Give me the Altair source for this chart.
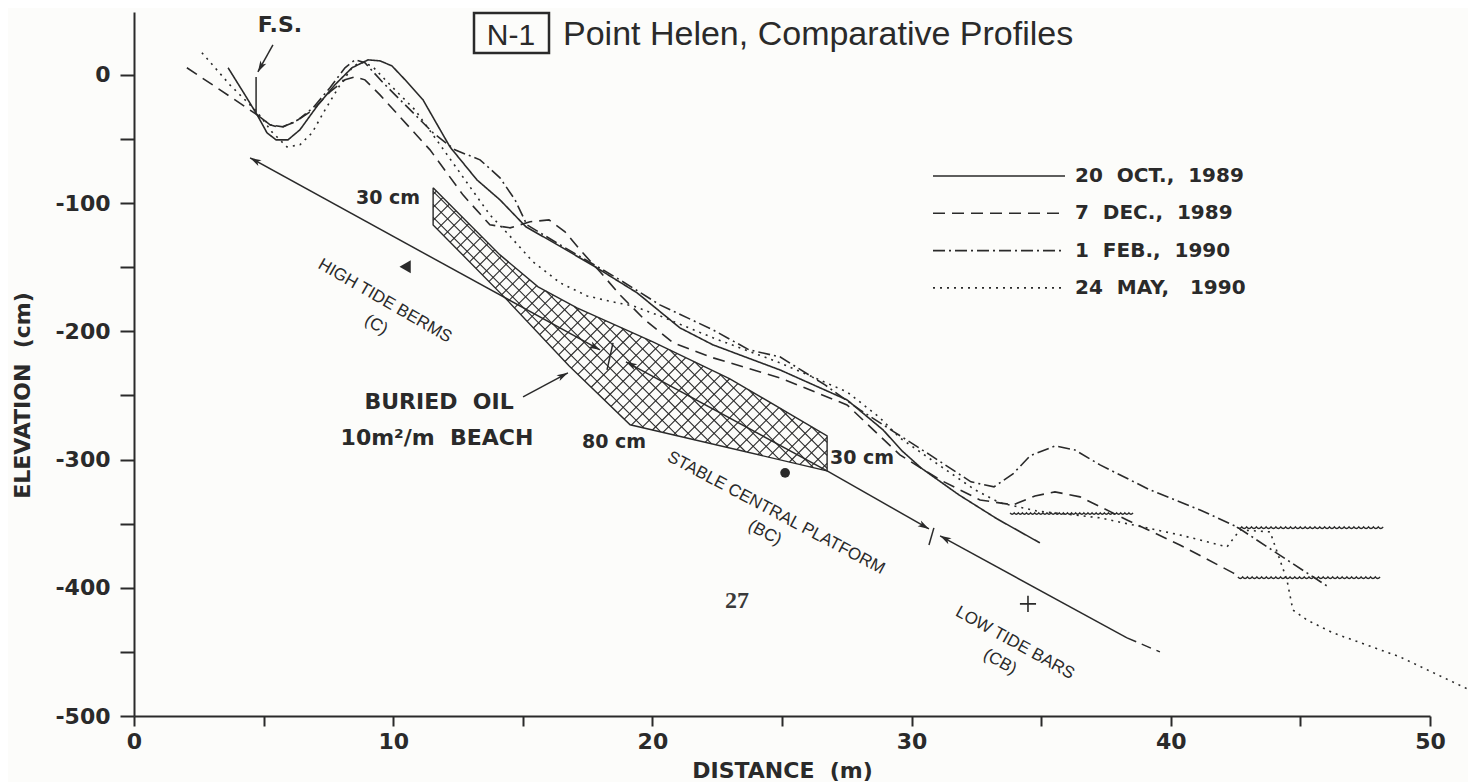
import math
import altair as alt
import pandas as pd

INK = "#2a2a2a"
BG = "#fcfcfa"
BOLD = "DejaVu Sans"
PLAIN = "Liberation Sans"
SP2 = "\u00a0\u00a0"  # wide gap that SVG does not collapse

# ---------------- profile series (distance m, elevation cm) ----------------
SERIES = ["20 OCT., 1989", "7 DEC., 1989", "1 FEB., 1990", "24 MAY, 1990"]
LEGEND_LABELS = ["20" + SP2 + "OCT.," + SP2 + "1989", "7" + SP2 + "DEC.," + SP2 + "1989",
                 "1" + SP2 + "FEB.," + SP2 + "1990", "24" + SP2 + "MAY," + SP2 + "\u00a01990"]

oct_dist = [3.63, 4.28, 4.75, 5.13, 5.48, 5.94, 6.40, 7.10, 7.75, 8.41, 9.03, 9.49, 9.95, 10.46,
            11.15, 12.19, 13.23, 14.12, 15.12, 16.47, 17.79, 19.41, 21.06, 22.34, 24.92, 27.51,
            28.90, 29.63, 30.36, 31.83, 33.30, 34.95]
oct_elev = [5.5, -15.6, -31.2, -45.2, -50.7, -50.7, -42.9, -23.4, -7.8, 5.5, 11.7, 10.9, 7.0, -3.9,
            -19.5, -56.2, -81.9, -97.5, -118.5, -134.1, -149.7, -170.0, -197.3, -210.6, -230.1, -253.5,
            -276.9, -293.2, -306.5, -327.6, -346.3, -365.0]

dec_dist = [2.04, 3.32, 4.75, 5.25, 5.63, 6.21, 6.91, 7.56, 8.14, 8.53, 8.91, 9.49, 10.26, 11.42,
            12.69, 13.73, 14.51, 15.28, 16.01, 16.63, 17.21, 17.98, 18.75, 19.71, 20.80, 22.34,
            24.92, 27.51, 29.55, 31.10, 32.64, 33.91, 34.76, 35.53, 36.50, 38.31, 40.35, 42.40, 42.67]
dec_elev = [5.5, -11.7, -31.2, -39.0, -41.3, -36.7, -27.3, -13.3, -3.9, -1.6, -3.9, -15.6, -32.8, -58.5,
            -93.6, -117.0, -119.3, -114.6, -113.1, -122.4, -136.5, -153.6, -171.6, -191.1, -209.0, -220.7,
            -236.3, -257.4, -296.4, -315.9, -331.5, -335.4, -328.4, -325.2, -329.1, -347.1, -366.6, -388.4, -391.5]

feb_dist = [4.75, 5.25, 5.75, 6.33, 6.91, 7.56, 8.14, 8.53, 8.91, 9.61, 10.46, 11.54, 12.38, 13.35,
            14.12, 14.70, 15.16, 16.44, 18.75, 20.29, 22.34, 23.73, 24.92, 26.66, 28.01, 29.32,
            30.71, 32.29, 33.18, 33.91, 34.57, 35.53, 36.30, 37.27, 39.20, 41.13, 42.55, 44.60, 46.14]
feb_elev = [-31.2, -39.0, -40.6, -35.1, -25.7, -10.1, 5.5, 11.7, 9.4, -6.2, -23.4, -45.2, -58.5, -66.3,
            -80.3, -97.5, -117.0, -132.6, -159.9, -179.4, -198.9, -214.5, -219.9, -241.8, -261.3, -278.4,
            -296.4, -317.4, -321.3, -311.2, -297.1, -289.4, -292.5, -304.2, -323.7, -339.3, -352.5, -379.8, -400.1]

may_dist = [2.62, 3.70, 4.75, 5.32, 5.90, 6.40, 6.87, 7.37, 7.95, 8.41, 8.72, 9.18, 9.88, 10.84,
            11.81, 12.77, 13.73, 14.39, 15.39, 16.44, 17.48, 18.48, 19.25, 20.29, 22.34, 24.92,
            27.51, 28.78, 29.55, 31.10, 32.45, 33.41, 34.80, 37.27, 40.35, 42.17, 42.67, 43.83,
            44.48, 44.71, 45.25, 46.26, 48.84, 51.77]
may_elev = [17.2, -7.8, -28.9, -44.5, -56.2, -54.6, -45.2, -27.3, -7.8, 5.5, 10.1, 7.0, -7.8, -27.3,
            -54.6, -81.9, -109.2, -123.2, -145.8, -162.2, -172.4, -177.1, -180.2, -188.0, -205.1, -224.6,
            -247.2, -267.5, -283.1, -304.9, -323.7, -333.8, -340.0, -345.5, -358.8, -368.1, -354.9, -356.4,
            -393.9, -417.3, -425.1, -435.2, -453.9, -482.0]

# ---------------- buried-oil zone outline ----------------
oil_dist = [11.54, 14.12, 15.59, 17.09, 20.02, 22.99, 26.74, 26.74, 19.14, 16.78, 14.39, 11.54]
oil_elev = [-88.1, -140.4, -165.3, -181.7, -208.2, -237.1, -281.5, -308.8, -272.9, -226.9, -175.5, -117.0]

# ---------------- zone lines / arrows (start, end, head, kind) ----------------
seg_d1 = [4.48, 18.98, 26.74, 31.10, 38.31, 18.48, 30.86, 4.71, 5.36, 15.01]
seg_e1 = [-64.7, -223.8, -308.8, -359.5, -439.1, -209.0, -353.3, -1.6, 23.4, -251.1]
seg_d2 = [17.98, 26.74, 30.67, 38.31, 39.58, 18.25, 30.67, 4.71, 4.78, 16.74]
seg_e2 = [-214.5, -308.8, -354.1, -439.1, -450.0, -230.1, -366.6, -29.6, 2.3, -232.4]
seg_head = ["both", "start", "end", "start", "none", "none", "none", "none", "end", "end"]
seg_kind = ["solid", "solid", "solid", "solid", "dash", "solid", "solid", "solid", "solid", "solid"]

# ---------------- rippled water-level lines (start, end, elevation) ----------------
wave_d1 = [42.55, 42.59, 33.80]
wave_d2 = [48.19, 48.07, 38.54]
wave_e = [-352.5, -391.5, -341.6]

# ---------------- point symbols ----------------
tri_dist, tri_elev = [10.46], [-149.7]
dot_dist, dot_elev = [25.12], [-310.4]
plus_dist, plus_elev = [34.49], [-412.6]

# ---------------- annotations ----------------
bold_small_text = ["30 cm", "80 cm", "30 cm"]
bold_small_dist = [9.80, 18.52, 28.09]
bold_small_elev = [-95.9, -286.2, -298.7]

bold_big_text = ["F.S.", "BURIED" + SP2 + "OIL", "10m²/m" + SP2 + "BEACH"]
bold_big_dist = [5.63, 11.77, 11.69]
bold_big_elev = [39.0, -255.0, -283.1]

zone_text = ["HIGH TIDE BERMS", "(C)", "STABLE CENTRAL PLATFORM", "(BC)", "LOW TIDE BARS", "(CB)"]
zone_dist = [9.68, 9.34, 24.77, 24.34, 33.99, 33.41]
zone_elev = [-176.3, -195.0, -341.6, -357.2, -443.0, -457.8]
zone_angle = [30, 30, 28, 28, 29, 29]

page_mark_text, page_mark_dist, page_mark_elev = ["27"], [23.26], [-410.2]

# ---------------- build tables ----------------
rows = []
for name, ds, es in zip(SERIES, [oct_dist, dec_dist, feb_dist, may_dist],
                        [oct_elev, dec_elev, feb_elev, may_elev]):
    for i, (d, e) in enumerate(zip(ds, es)):
        rows.append({"series": name, "dist": d, "elev": e, "ord": i})
profiles = pd.DataFrame(rows)

oil = pd.DataFrame({"dist": oil_dist + oil_dist[:1], "elev": oil_elev + oil_elev[:1],
                    "ord": list(range(len(oil_dist) + 1))})

W, H = 1296, 704
XDOM, YDOM = [0, 50], [-500, 49]
KX = W / (XDOM[1] - XDOM[0])
KY = H / (YDOM[1] - YDOM[0])

# cross-hatching clipped to the oil zone
px = [d * KX for d in oil_dist]
py = [-e * KY for e in oil_elev]
n = len(px)
hatch = []
step = 13.0
for sgn in (1.0, -1.0):
    cs = [py[i] - sgn * px[i] for i in range(n)]
    c = min(cs) + step / 2
    while c < max(cs):
        xs = []
        for i in range(n):
            j = (i + 1) % n
            f1 = py[i] - sgn * px[i] - c
            f2 = py[j] - sgn * px[j] - c
            if (f1 > 0) != (f2 > 0):
                t = f1 / (f1 - f2)
                xs.append(px[i] + t * (px[j] - px[i]))
        xs.sort()
        for a, b in zip(xs[0::2], xs[1::2]):
            hatch.append({"dist": a / KX, "elev": -(sgn * a + c) / KY,
                          "dist2": b / KX, "elev2": -(sgn * b + c) / KY})
        c += step
hatch = pd.DataFrame(hatch)

segs = pd.DataFrame({"dist": seg_d1, "elev": seg_e1, "dist2": seg_d2, "elev2": seg_e2,
                     "head": seg_head, "kind": seg_kind})

heads = []
for d1, e1, d2, e2, h in zip(seg_d1, seg_e1, seg_d2, seg_e2, seg_head):
    def add(tx, ty, fx, fy):
        ang = math.degrees(math.atan2(-(ty - fy) * KY, (tx - fx) * KX)) % 360
        heads.append({"dist": tx, "elev": ty, "angle": ang})
    if h in ("end", "both"):
        add(d2, e2, d1, e1)
    if h in ("start", "both"):
        add(d1, e1, d2, e2)
heads = pd.DataFrame(heads)

# ripple symbol: scalloped stroke spanning the unit box horizontally
NB = 30
wstep = 2.0 / NB
RIPPLE = "M -1 0 " + " ".join(f"q {wstep/2:.4f} 0.045 {wstep:.4f} 0" for _ in range(NB))
waves = pd.DataFrame({
    "dist": [(a + b) / 2 for a, b in zip(wave_d1, wave_d2)],
    "elev": wave_e,
    "sz": [((b - a) * KX) ** 2 for a, b in zip(wave_d1, wave_d2)],
})

# ---------------- encodings ----------------
XS = alt.Scale(domain=XDOM, nice=False, zero=False)
YS = alt.Scale(domain=YDOM, nice=False, zero=False)
XAX = alt.Axis(values=list(range(0, 51, 5)), labelExpr="datum.value % 10 === 0 ? toString(datum.value) : ''",
               title="DISTANCE" + SP2 + "(m)", grid=False, tickSize=10, tickWidth=2, tickColor=INK,
               domainColor=INK, domainWidth=2, labelFont=BOLD, labelFontWeight="bold", labelFontSize=22,
               labelColor=INK, labelPadding=5, labelFlush=False, labelOverlap=False,
               titleFont=BOLD, titleFontWeight="bold", titleFontSize=22, titleColor=INK, titlePadding=8)
YAX = alt.Axis(values=list(range(-500, 1, 50)), labelExpr="datum.value % 100 === 0 ? toString(datum.value) : ''",
               title="ELEVATION" + SP2 + "(cm)", grid=False, tickSize=14, tickWidth=2, tickColor=INK,
               domainColor=INK, domainWidth=2, labelFont=BOLD, labelFontWeight="bold", labelFontSize=22,
               labelColor=INK, labelPadding=10, labelFlush=False, labelOverlap=False,
               titleFont=BOLD, titleFontWeight="bold", titleFontSize=22, titleColor=INK,
               titleAngle=270, titleX=-112, titleY=383, titleAlign="center", titleBaseline="middle")


def X(f="dist"):
    return alt.X(f"{f}:Q", scale=XS, axis=XAX)


def Y(f="elev"):
    return alt.Y(f"{f}:Q", scale=YS, axis=YAX)


DASH = alt.Scale(domain=SERIES, range=[[1, 0], [12, 7], [12, 4, 2, 4], [2, 5]])

curves = alt.Chart(profiles).mark_line(color=INK, strokeWidth=1.6, clip=False).encode(
    x=X(), y=Y(), order="ord:Q", detail="series:N",
    strokeDash=alt.StrokeDash("series:N", scale=DASH, legend=None))

oil_outline = alt.Chart(oil).mark_line(color=INK, strokeWidth=1.4).encode(x=X(), y=Y(), order="ord:Q")
hatch_layer = alt.Chart(hatch).mark_rule(color=INK, strokeWidth=1.1).encode(
    x=X(), y=Y(), x2="dist2:Q", y2="elev2:Q")

solid_segs = alt.Chart(segs).transform_filter("datum.kind === 'solid'").mark_rule(
    color=INK, strokeWidth=1.5).encode(x=X(), y=Y(), x2="dist2:Q", y2="elev2:Q")
dash_segs = alt.Chart(segs).transform_filter("datum.kind === 'dash'").mark_rule(
    color=INK, strokeWidth=1.5, strokeDash=[10, 6]).encode(x=X(), y=Y(), x2="dist2:Q", y2="elev2:Q")
wave_layer = alt.Chart(waves).mark_point(
    shape=RIPPLE, filled=False, color=INK, strokeWidth=1.4, opacity=1).encode(
    x=X(), y=Y(), size=alt.Size("sz:Q", scale=None))

ARROW = "M 0 0 L -1 -0.3 L -0.75 0 L -1 0.3 Z"
head_layer = alt.Chart(heads).mark_point(shape=ARROW, filled=True, size=500, color=INK, opacity=1).encode(
    x=X(), y=Y(), angle=alt.Angle("angle:Q", scale=None))

tri = alt.Chart(pd.DataFrame({"dist": tri_dist, "elev": tri_elev})).mark_point(
    shape="triangle-left", filled=True, size=170, color=INK, opacity=1).encode(x=X(), y=Y())
dot = alt.Chart(pd.DataFrame({"dist": dot_dist, "elev": dot_elev})).mark_point(
    shape="circle", filled=True, size=95, color=INK, opacity=1).encode(x=X(), y=Y())
plus = alt.Chart(pd.DataFrame({"dist": plus_dist, "elev": plus_elev})).mark_point(
    shape="M -1 0 L 1 0 M 0 -1 L 0 1", filled=False, size=260, color=INK, strokeWidth=1.6,
    opacity=1).encode(x=X(), y=Y())

t_small = alt.Chart(pd.DataFrame({"dist": bold_small_dist, "elev": bold_small_elev, "t": bold_small_text})).mark_text(
    font=BOLD, fontWeight="bold", fontSize=19, color=INK, baseline="middle").encode(x=X(), y=Y(), text="t:N")
t_big = alt.Chart(pd.DataFrame({"dist": bold_big_dist, "elev": bold_big_elev, "t": bold_big_text})).mark_text(
    font=BOLD, fontWeight="bold", fontSize=22, color=INK, baseline="middle").encode(x=X(), y=Y(), text="t:N")
t_zone = alt.Chart(pd.DataFrame({"dist": zone_dist, "elev": zone_elev, "t": zone_text, "a": zone_angle})).mark_text(
    font=PLAIN, fontSize=17, color=INK, baseline="middle").encode(
    x=X(), y=Y(), text="t:N", angle=alt.Angle("a:Q", scale=None))
t_page = alt.Chart(pd.DataFrame({"dist": page_mark_dist, "elev": page_mark_elev, "t": page_mark_text})).mark_text(
    font="Liberation Serif", fontWeight="bold", fontSize=24, color="#3a3a3a", baseline="middle").encode(
    x=X(), y=Y(), text="t:N")

# ---------------- legend (drawn) ----------------
leg = pd.DataFrame({"series": SERIES, "label": LEGEND_LABELS, "row": [0, 1, 2, 3]})
leg_lines = alt.Chart(leg).transform_calculate(ly="164 + 37.3 * datum.row").mark_rule(
    color=INK, strokeWidth=1.6).encode(
    x=alt.value(799), x2=alt.value(931), y=alt.Y("ly:Q", scale=None),
    strokeDash=alt.StrokeDash("series:N", scale=DASH, legend=None))
leg_text = alt.Chart(leg).transform_calculate(ly="164 + 37.3 * datum.row").mark_text(
    font=BOLD, fontWeight="bold", fontSize=20, color=INK, align="left", baseline="middle").encode(
    x=alt.value(941), y=alt.Y("ly:Q", scale=None), text="label:N")

# ---------------- title ----------------
title_tag = ["N-1"]
title_main = ["Point Helen, Comparative Profiles"]
tag_box = alt.Chart(pd.DataFrame({"t": title_tag})).mark_rect(
    fill=None, stroke=INK, strokeWidth=2.5).encode(
    x=alt.value(340), x2=alt.value(415), y=alt.value(1), y2=alt.value(41))
tag_text = alt.Chart(pd.DataFrame({"t": title_tag})).mark_text(
    font=PLAIN, fontSize=30, color=INK, align="center", baseline="alphabetic").encode(
    x=alt.value(377), y=alt.value(33), text="t:N")
main_text = alt.Chart(pd.DataFrame({"t": title_main})).mark_text(
    font=PLAIN, fontSize=34, color=INK, align="left", baseline="alphabetic").encode(
    x=alt.value(429), y=alt.value(33), text="t:N")

chart = alt.layer(
    hatch_layer, oil_outline, solid_segs, dash_segs, wave_layer, head_layer, curves,
    tri, dot, plus, t_small, t_big, t_zone, t_page,
    leg_lines, leg_text, tag_box, tag_text, main_text
).properties(
    width=W, height=H,
    autosize=alt.AutoSizeParams(type="none"),
    padding={"left": 126, "top": 4, "right": 38, "bottom": 66},
    background=BG,
).configure_view(stroke=None)

chart.save("out.html", embed_options={"renderer": "svg", "actions": False})
